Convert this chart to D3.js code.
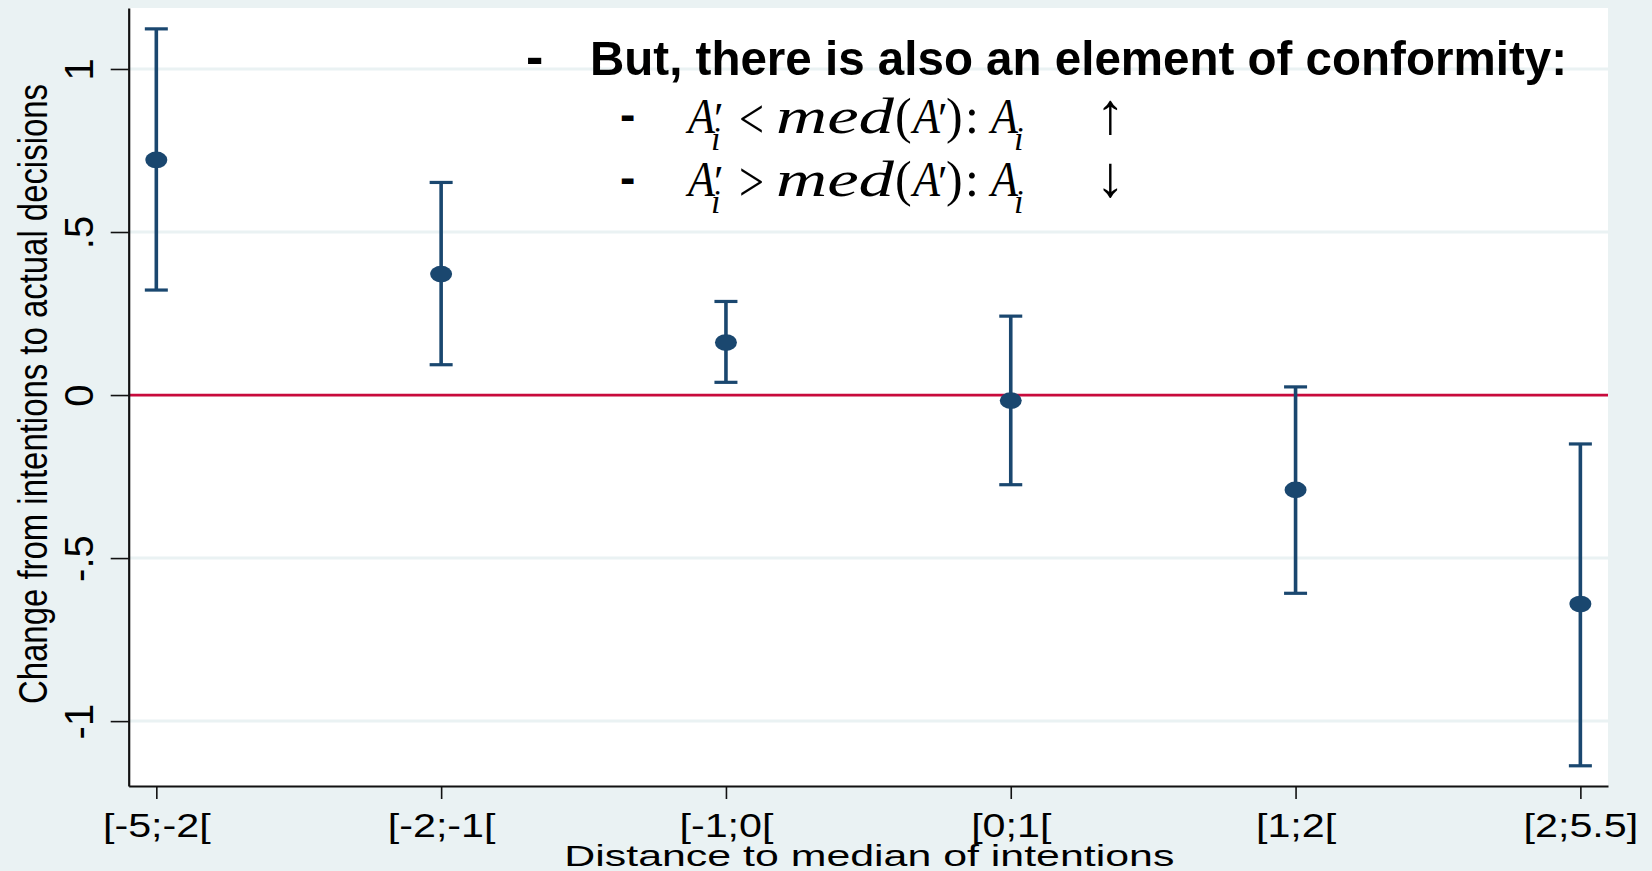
<!DOCTYPE html>
<html>
<head>
<meta charset="utf-8">
<script src="https://cdn.jsdelivr.net/npm/d3@7"></script>
<style>
  html, body { margin: 0; padding: 0; background: #eaf2f3; }
  svg { display: block; }
  text { font-family: "Liberation Sans", Arial, sans-serif; fill: #000; }
</style>
</head>
<body>
<svg id="chart" width="1652" height="871"></svg>
<script>
// Change from intentions to actual decisions, by distance to the median intention
const categories = ["[-5;-2[", "[-2;-1[", "[-1;0[", "[0;1[", "[1;2[", "[2;5.5]"];
const means = [0.721, 0.371, 0.161, -0.017, -0.291, -0.641];
const lower = [0.322, 0.093, 0.039, -0.275, -0.608, -1.137];
const upper = [1.123, 0.652, 0.287, 0.242, 0.025, -0.150];
const yTicks = [-1, -0.5, 0, 0.5, 1];
const yTickLabels = ["-1", "-.5", "0", ".5", "1"];
const yRange = [-1.199, 1.187];

const W = 1652, H = 871;
const plot = { left: 128.7, right: 1608, top: 8, bottom: 786 };
const navy = "#1a476f", bg = "#eaf2f3", red = "#c80a3c";

const svg = d3.select("#chart");
svg.append("rect").attr("width", W).attr("height", H).attr("fill", bg);
svg.append("rect")
  .attr("x", plot.left).attr("y", plot.top)
  .attr("width", plot.right - plot.left).attr("height", plot.bottom - plot.top)
  .attr("fill", "#fff");

const x = d3.scalePoint().domain(categories).range([plot.left, plot.right]).padding(0.097);
const y = d3.scaleLinear().domain(yRange).range([plot.bottom, plot.top]);

// horizontal grid lines
svg.append("g").selectAll("line").data(yTicks.filter(v => v !== 0)).join("line")
  .attr("x1", plot.left).attr("x2", plot.right)
  .attr("y1", d => y(d)).attr("y2", d => y(d))
  .attr("stroke", bg).attr("stroke-width", 3);

// reference line at zero
svg.append("line")
  .attr("x1", plot.left).attr("x2", plot.right)
  .attr("y1", y(0)).attr("y2", y(0))
  .attr("stroke", red).attr("stroke-width", 2.7);

// confidence intervals and point estimates
const rows = categories.map((c, i) => ({ c, m: means[i], lo: lower[i], hi: upper[i] }));
const g = svg.append("g");
g.selectAll("line.ci").data(rows).join("line").attr("class", "ci")
  .attr("x1", d => x(d.c)).attr("x2", d => x(d.c))
  .attr("y1", d => y(d.lo)).attr("y2", d => y(d.hi))
  .attr("stroke", navy).attr("stroke-width", 3.6);
["lo", "hi"].forEach(k => {
  g.selectAll("line.cap-" + k).data(rows).join("line").attr("class", "cap-" + k)
    .attr("x1", d => x(d.c) - 11.5).attr("x2", d => x(d.c) + 11.5)
    .attr("y1", d => y(d[k])).attr("y2", d => y(d[k]))
    .attr("stroke", navy).attr("stroke-width", 3.2);
});
g.selectAll("ellipse").data(rows).join("ellipse")
  .attr("cx", d => x(d.c)).attr("cy", d => y(d.m))
  .attr("rx", 11).attr("ry", 8.4).attr("fill", navy);

// axes
const yAxis = d3.axisLeft(y).tickValues(yTicks)
  .tickFormat((d, i) => yTickLabels[i]).tickSize(18).tickSizeOuter(0);
const ya = svg.append("g").attr("transform", `translate(${plot.left},0)`).call(yAxis);
ya.select(".domain").attr("stroke", "#111").attr("stroke-width", 2.2);
ya.selectAll(".tick line").attr("stroke", "#111").attr("stroke-width", 1.6);
ya.selectAll(".tick text")
  .attr("x", 0).attr("y", -35.7).attr("dy", null)
  .attr("transform", "rotate(-90)")
  .attr("text-anchor", "middle")
  .style("font-size", "40px").style("font-family", '"Liberation Sans", Arial, sans-serif');

const xAxis = d3.axisBottom(x).tickSize(13).tickSizeOuter(0);
const xa = svg.append("g").attr("transform", `translate(0,${plot.bottom})`).call(xAxis);
xa.select(".domain").attr("stroke", "#111").attr("stroke-width", 2.2);
xa.selectAll(".tick line").attr("stroke", "#111").attr("stroke-width", 1.6);
xa.selectAll(".tick text")
  .attr("y", 51).attr("dy", null)
  .style("font-size", "33px").style("font-family", '"Liberation Sans", Arial, sans-serif');
// widen tick labels
xa.selectAll(".tick text").each(function () {
  const w = this.getComputedTextLength();
  d3.select(this).attr("textLength", w * 1.25).attr("lengthAdjust", "spacingAndGlyphs");
});

// axis titles
svg.append("text")
  .attr("x", (plot.left + plot.right) / 2 + 1).attr("y", 866)
  .attr("text-anchor", "middle").style("font-size", "30px")
  .attr("textLength", 610).attr("lengthAdjust", "spacingAndGlyphs")
  .text("Distance to median of intentions");

svg.append("text")
  .attr("transform", "translate(47,394) rotate(-90)")
  .attr("text-anchor", "middle").style("font-size", "40px")
  .attr("textLength", 620).attr("lengthAdjust", "spacingAndGlyphs")
  .text("Change from intentions to actual decisions");

// annotation bullets
const note = svg.append("g");
const head = note.append("text").attr("y", 75).style("font-weight", "bold");
head.append("tspan").attr("x", 526).attr("y", 73.5).style("font-size", "52px").text("-");
head.append("tspan").attr("x", 590).attr("y", 75).style("font-size", "49px")
  .attr("textLength", 977).attr("lengthAdjust", "spacingAndGlyphs")
  .text("But, there is also an element of conformity:");

const serif = '"Liberation Serif", "Times New Roman", serif';
function mathLine(baseline, rel, arrow) {
  const t = note.append("text").attr("y", baseline)
    .style("font-family", serif).style("font-size", "50px");
  const pieces = [
    { t: "-", x: 620, dy: -3, fs: 46, ff: '"Liberation Sans", Arial, sans-serif', b: true },
    { t: "A", x: 688, it: true, len: 27 },
    { t: "\u2032", x: 714, fs: 44 },
    { t: "i", x: 711, dy: 17, fs: 34, it: true },
    { t: rel, x: 739, dy: 5, fs: 58, len: 25 },
    { t: "med", x: 776, it: true, len: 118 },
    { t: "(", x: 895 },
    { t: "A", x: 913, it: true, len: 27 },
    { t: "\u2032", x: 938, fs: 44 },
    { t: ")", x: 946 },
    { t: ":", x: 965 },
    { t: "A", x: 991, it: true, len: 27 },
    { t: "i", x: 1014, dy: 17, fs: 34, it: true },
    { t: arrow, x: 1096, fs: 58 }
  ];
  pieces.forEach(p => {
    const s = t.append("tspan").attr("x", p.x).attr("y", baseline + (p.dy || 0))
      .style("font-size", (p.fs || 50) + "px")
      .style("font-style", p.it ? "italic" : "normal")
      .text(p.t);
    if (p.ff) s.style("font-family", p.ff);
    if (p.b) s.style("font-weight", "bold");
    if (p.len) s.attr("textLength", p.len).attr("lengthAdjust", "spacingAndGlyphs");
  });
}
mathLine(133, "<", "\u2191");
mathLine(196, ">", "\u2193");
</script>
</body>
</html>
